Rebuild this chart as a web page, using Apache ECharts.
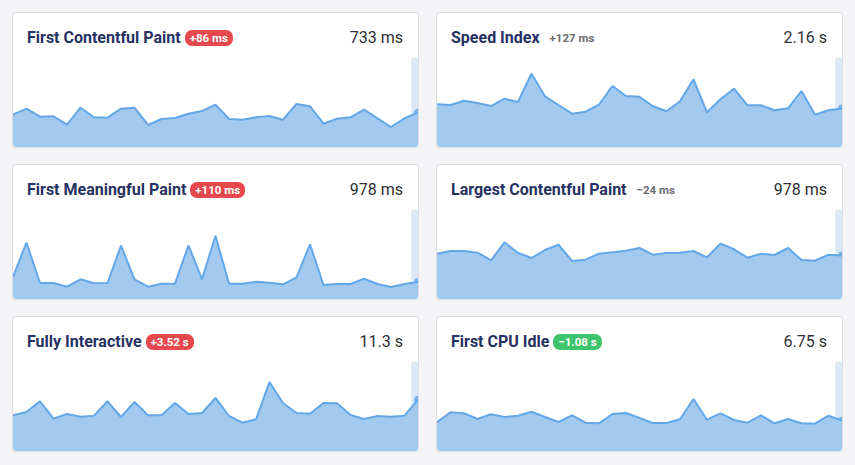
<!DOCTYPE html>
<html>
<head>
<meta charset="utf-8">
<script src="https://cdn.jsdelivr.net/npm/echarts@6/dist/echarts.min.js"></script>
<style>
  html, body { margin: 0; padding: 0; }
  body { width: 855px; height: 465px; background: #f4f3f6; position: relative; overflow: hidden; font-family: Roboto, "Noto Sans", sans-serif; }
  .card { position: absolute; width: 407px; height: 136px; box-sizing: border-box; background: #fff; border: 1px solid #dedde2; border-radius: 4px; overflow: hidden; }
  .head { position: absolute; left: 14px; top: 16px; height: 18px; display: flex; align-items: center; }
  .title { font-size: 16px; font-weight: 700; color: #263163; line-height: 18px; white-space: nowrap; }
  .badge { margin-left: 4px; height: 16px; line-height: 16px; padding: 0 5px; border-radius: 7px; font-size: 11.5px; font-weight: 700; color: #fff; white-space: nowrap; }
  .badge.bad { background: #e5484d; }
  .badge.good { background: #3ec46d; }
  .badge.neutral { background: transparent; color: #6b6b70; margin-left: 5px; }
  .value { position: absolute; right: 15px; top: 15px; font-size: 16px; line-height: 20px; color: #2f2f33; white-space: nowrap; }
  .chart { position: absolute; left: 0; right: 0; top: 45px; bottom: 0; }
</style>
</head>
<body>
<div id="root"></div>
<script>
// ---- data ----
const titles = ["First Contentful Paint", "Speed Index", "First Meaningful Paint", "Largest Contentful Paint", "Fully Interactive", "First CPU Idle"];
const currentValues = ["733 ms", "2.16 s", "978 ms", "978 ms", "11.3 s", "6.75 s"];
const changes = ["+86 ms", "+127 ms", "+110 ms", "\u221224 ms", "+3.52 s", "\u22121.08 s"];
const changeKinds = ["bad", "neutral", "bad", "neutral", "bad", "good"];
const axisMax = [1900, 5000, 5100, 2000, 19.6, 19.8];

const fcp = [690, 818, 647, 655, 476, 839, 634, 626, 818, 839, 470, 598, 619, 711, 769, 903, 598, 583, 634, 662, 583, 918, 869, 497, 604, 634, 796, 613, 427, 613, 733];
const speedIndex = [2399, 2360, 2601, 2472, 2303, 2713, 2528, 4118, 2848, 2360, 1871, 1983, 2376, 3427, 2865, 2826, 2287, 2006, 2567, 3803, 1949, 2680, 3275, 2343, 2343, 2062, 2174, 3146, 1815, 2062, 2160];
const fmp = [1261, 3226, 917, 917, 705, 1129, 900, 917, 3054, 1129, 705, 877, 877, 3077, 1129, 3627, 877, 877, 991, 934, 842, 1243, 3134, 802, 860, 860, 1163, 860, 688, 860, 978];
const lcp = [1018, 1079, 1079, 1040, 870, 1274, 1034, 921, 1101, 1220, 854, 883, 1018, 1049, 1085, 1146, 995, 1034, 1040, 1079, 937, 1243, 1117, 928, 1018, 989, 1146, 876, 861, 995, 978];
const fullyInteractive = [7.86, 8.59, 10.95, 7.12, 8.15, 7.56, 7.78, 10.95, 7.49, 10.79, 7.86, 7.86, 10.57, 8.15, 8.37, 11.68, 7.71, 6.23, 6.98, 15.2, 10.57, 8.37, 8.22, 10.57, 10.51, 7.93, 7.05, 7.71, 7.56, 7.78, 11.3];
const firstCpuIdle = [6.39, 8.61, 8.39, 7.12, 8.17, 7.57, 7.85, 8.74, 7.57, 6.45, 7.94, 6.30, 6.16, 8.23, 8.46, 7.34, 6.23, 6.23, 7.05, 11.57, 6.96, 8.39, 6.90, 6.30, 7.94, 6.16, 7.12, 6.16, 6.07, 7.85, 6.75];

const seriesList = [fcp, speedIndex, fmp, lcp, fullyInteractive, firstCpuIdle];

// ---- layout ----
const cardLeft = [12, 436];
const cardTop = [12, 164, 316];

const root = document.getElementById('root');
seriesList.forEach((vals, k) => {
  const card = document.createElement('div');
  card.className = 'card';
  card.style.left = cardLeft[k % 2] + 'px';
  card.style.top = cardTop[Math.floor(k / 2)] + 'px';
  card.innerHTML =
    '<div class="head"><span class="title"></span><span class="badge ' + changeKinds[k] + '"></span></div>' +
    '<div class="value"></div><div class="chart"></div>';
  card.querySelector('.title').textContent = titles[k];
  card.querySelector('.badge').textContent = changes[k];
  card.querySelector('.value').textContent = currentValues[k];
  root.appendChild(card);

  const chart = echarts.init(card.querySelector('.chart'), null, { renderer: 'canvas' });
  const n = vals.length;
  const pts = vals.map((v, i) => [i, v]);
  chart.setOption({
    animation: false,
    grid: { left: 0, right: 0, top: 0, bottom: 0 },
    xAxis: { type: 'value', min: 0, max: n - 1, show: false },
    yAxis: { type: 'value', min: 0, max: axisMax[k], show: false },
    series: [
      {
        type: 'line',
        data: pts,
        symbol: 'none',
        lineStyle: { color: '#62a7e8', width: 2 },
        areaStyle: { color: '#a2caee', opacity: 1 },
        markArea: {
          silent: true,
          itemStyle: { color: 'rgba(190, 215, 240, 0.55)' },
          data: [[{ xAxis: n - 1.5 }, { xAxis: n - 1 }]]
        }
      },
      {
        type: 'scatter',
        data: [pts[n - 1]],
        symbol: 'circle',
        symbolSize: 8,
        itemStyle: { color: '#62a7e8' },
        clip: false
      }
    ]
  });
});
</script>
</body>
</html>
